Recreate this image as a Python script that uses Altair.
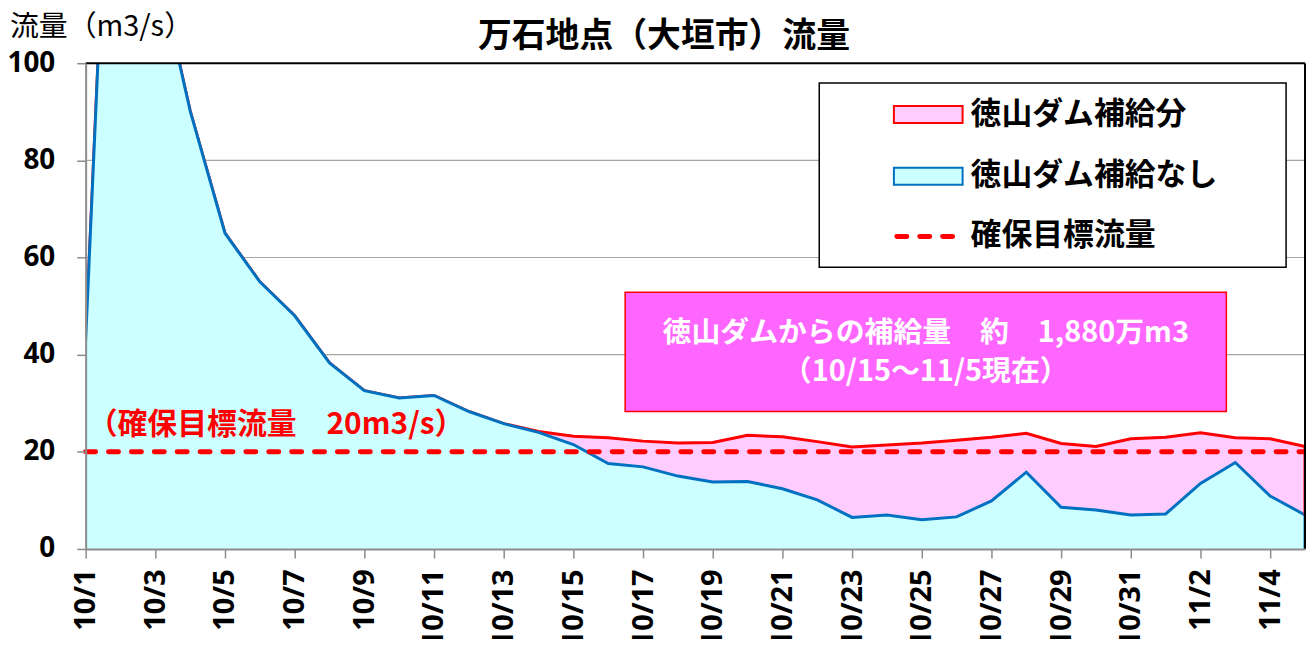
import altair as alt
import pandas as pd

# ---------------- data ----------------
dates = ["10/1", "10/2", "10/3", "10/4", "10/5", "10/6", "10/7", "10/8", "10/9", "10/10",
         "10/11", "10/12", "10/13", "10/14", "10/15", "10/16", "10/17", "10/18", "10/19", "10/20",
         "10/21", "10/22", "10/23", "10/24", "10/25", "10/26", "10/27", "10/28", "10/29", "10/30",
         "10/31", "11/1", "11/2", "11/3", "11/4", "11/5"]
# flow without Tokuyama dam supply (m3/s)
no_dam = [43.0, 205.0, 122.0, 90.2, 65.0, 55.0, 48.0, 38.3, 32.6, 31.1,
          31.6, 28.3, 25.8, 24.0, 21.5, 17.6, 16.9, 15.0, 13.8, 13.9,
          12.4, 10.1, 6.5, 7.0, 6.0, 6.6, 9.9, 15.8, 8.6, 8.0,
          7.0, 7.2, 13.5, 17.8, 10.9, 7.0]
# flow including dam supply (m3/s)
total = [43.0, 205.0, 122.0, 90.2, 65.0, 55.0, 48.0, 38.3, 32.6, 31.1,
         31.6, 28.3, 25.8, 24.2, 23.2, 22.9, 22.2, 21.8, 21.9, 23.4,
         23.1, 22.1, 21.0, 21.4, 21.8, 22.4, 23.0, 23.8, 21.7, 21.1,
         22.7, 23.0, 23.9, 22.9, 22.7, 21.1]
target_flow = [20]
grid_vals = [20, 40, 60, 80]
y_ticks = [0, 20, 40, 60, 80, 100]
x_tick_labels = dates[::2]

title_text = "万石地点（大垣市）流量"
y_title_text = "流量（m3/s）"
legend_labels = ["徳山ダム補給分", "徳山ダム補給なし", "確保目標流量"]
note_line1 = "徳山ダムからの補給量　約　1,880万m3"
note_line2 = "（10/15～11/5現在）"
target_note = "（確保目標流量　20m3/s）"

# ---------------- styling ----------------
W, H = 1225, 488
JP = "Noto Sans CJK JP"
NUM = "Noto Sans"
BLUE = "#0070C0"
CYAN = "#CCFFFF"
PINK = "#FFCCFF"
RED = "#FF0000"
GRAY = "#8C8C8C"

df = pd.DataFrame({"date": dates, "no_dam": no_dam, "total": total})
df_last = df.iloc[[-1]]

xaxis = alt.Axis(values=x_tick_labels, labelAngle=270, labelFont=NUM, labelFontWeight="bold",
                 labelFontSize=29, labelColor="black", labelPadding=11, tickSize=9,
                 tickColor=GRAY, tickWidth=1.5, domainColor=GRAY, domainWidth=2, grid=False,
                 title=None, labelOverlap=False, zindex=1)
yaxis = alt.Axis(values=y_ticks, labelFont=NUM, labelFontWeight="bold", labelFontSize=28,
                 labelColor="black", labelPadding=22, tickSize=9, tickColor=GRAY, tickWidth=1.5,
                 domainColor=GRAY, domainWidth=2, grid=False, title=None, zindex=1)
yscale = alt.Scale(domain=[0, 100], nice=False, zero=True)
xenc = alt.X("date:O", sort=dates, scale=alt.Scale(type="point", padding=0), axis=xaxis)


def Y(field):
    return alt.Y(field, scale=yscale, axis=yaxis)


grid = alt.Chart(pd.DataFrame({"v": grid_vals})).mark_rule(color="#A6A6A6", strokeWidth=1.2).encode(
    y=Y("v:Q"), x=alt.value(0), x2=alt.value(W))

base = alt.Chart(df)
pink_area = base.mark_area(color=PINK, clip=True, opacity=1).encode(x=xenc, y=Y("total:Q"))
red_line = base.mark_line(color=RED, strokeWidth=3, clip=True).encode(x=xenc, y=Y("total:Q"))
cyan_area = base.mark_area(color=CYAN, clip=True, opacity=1).encode(x=xenc, y=Y("no_dam:Q"))
blue_line = base.mark_line(color=BLUE, strokeWidth=3, clip=True).encode(x=xenc, y=Y("no_dam:Q"))

last = alt.Chart(df_last)
red_edge = last.mark_rule(color=RED, strokeWidth=3).encode(x=xenc, y=Y("total:Q"), y2="no_dam:Q")
blue_edge = last.mark_rule(color=BLUE, strokeWidth=3).encode(x=xenc, y=Y("no_dam:Q"), y2=alt.datum(0))

target = alt.Chart(pd.DataFrame({"v": target_flow})).mark_rule(
    color=RED, strokeWidth=5, strokeDash=[10, 13], strokeCap="round").encode(
    y=Y("v:Q"), x=alt.value(0), x2=alt.value(W))

one = pd.DataFrame({"k": [0]})
top_border = alt.Chart(one).mark_rule(color="black", strokeWidth=2).encode(
    x=alt.value(0), x2=alt.value(W), y=alt.value(0))
right_border = alt.Chart(one).mark_rule(color="black", strokeWidth=2).encode(
    x=alt.value(W), y=alt.value(0), y2=alt.value(H))


def txt(s, x, y, size, color="black", weight="normal", align="left", font=JP):
    return alt.Chart(pd.DataFrame({"t": [s]})).mark_text(
        font=font, fontSize=size, fontWeight=weight, color=color, align=align,
        baseline="middle").encode(text="t:N", x=alt.value(x), y=alt.value(y))


def box(x1, x2, y1, y2, fill, stroke, sw):
    return alt.Chart(one).mark_rect(fill=fill, stroke=stroke, strokeWidth=sw).encode(
        x=alt.value(x1), x2=alt.value(x2), y=alt.value(y1), y2=alt.value(y2))


# legend
leg_box = box(737, 1206, 20, 205, "white", "black", 1.5)
leg_sw1 = box(812, 881, 43, 60, PINK, RED, 2)
leg_sw2 = box(812, 881, 105, 122, CYAN, BLUE, 2)
leg_sw3 = alt.Chart(one).mark_rule(color=RED, strokeWidth=5, strokeDash=[10, 13], strokeCap="round").encode(
    x=alt.value(815), x2=alt.value(872), y=alt.value(174))
leg_t1 = txt(legend_labels[0], 889, 52, 31, weight="bold")
leg_t2 = txt(legend_labels[1], 889, 113, 31, weight="bold")
leg_t3 = txt(legend_labels[2], 889, 174, 31, weight="bold")

# annotation box
note_box = box(542, 1146, 230, 350, "#FF66FF", RED, 1.5)
note_t1 = txt(note_line1, 844, 271, 29, color="white", weight="bold", align="center")
note_t2 = txt(note_line2, 844, 310, 29, color="white", weight="bold", align="center")

target_t = txt(target_note, 2, 364, 30, color=RED, weight="bold")
title_t = txt(title_text, 581, -26, 34, weight="bold", align="center")
ytitle_t = txt(y_title_text, -76, -36, 29)

chart = alt.layer(
    grid, pink_area, red_line, cyan_area, blue_line, red_edge, blue_edge, target,
    top_border, right_border,
    leg_box, leg_sw1, leg_sw2, leg_sw3, leg_t1, leg_t2, leg_t3,
    note_box, note_t1, note_t2, target_t, title_t, ytitle_t,
).properties(
    width=W, height=H,
    autosize=alt.AutoSizeParams(type="none"),
    padding={"left": 78, "top": 54, "right": 1, "bottom": 89},
    background="white",
).configure_view(stroke=None)

chart.save("out.html", embed_options={"renderer": "svg", "actions": False})
